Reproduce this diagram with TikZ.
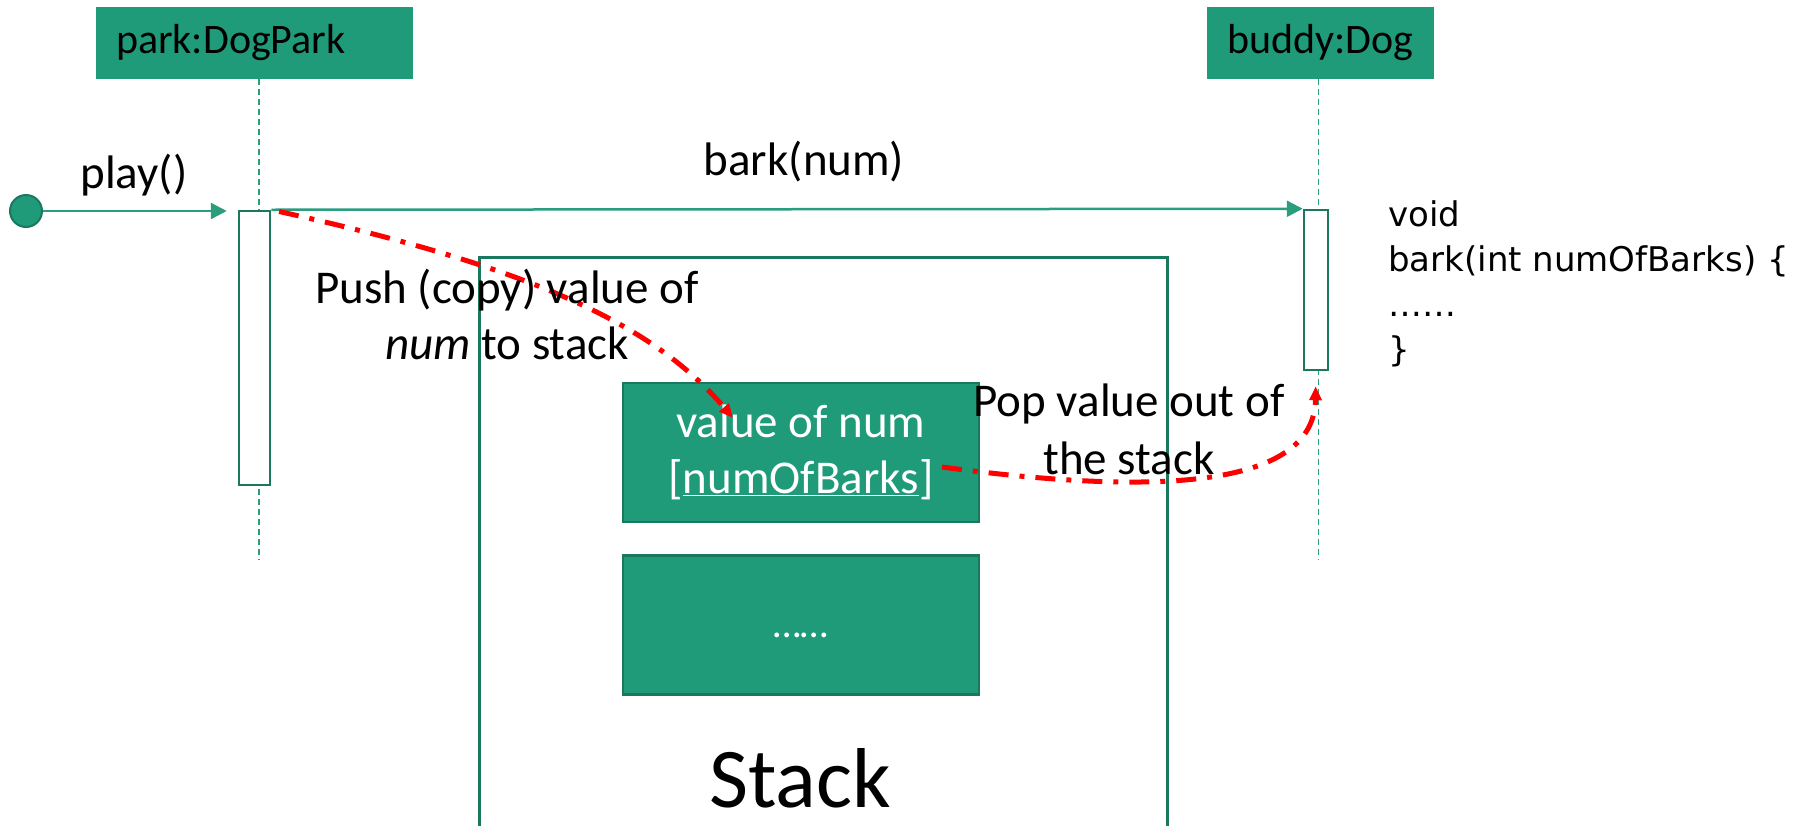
\documentclass[tikz,border=0pt]{standalone}
\usepackage{fontspec}
\setmainfont{Carlito}
\newfontfamily\codefont{DejaVu Sans}
\usetikzlibrary{arrows.meta}
\definecolor{boxgreen}{RGB}{31,155,122}
\definecolor{edgegreen}{RGB}{26,120,94}
\definecolor{linegreen}{RGB}{42,157,126}
\definecolor{popred}{RGB}{255,0,0}
\begin{document}
\begin{tikzpicture}[x=1pt,y=-1pt,
  objbox/.style={fill=boxgreen, draw=none, minimum height=72pt, inner sep=0pt,
    font=\fontsize{42}{50}\selectfont},
  lifeline/.style={draw=linegreen, line width=1.5pt, dash pattern=on 6pt off 4pt},
  activation/.style={draw=edgegreen, fill=white, line width=2.5pt, inner sep=0pt},
  msg/.style={draw=linegreen, line width=2.5pt,
    -{Triangle[length=16pt,width=16pt]}},
  label/.style={inner sep=0pt, font=\fontsize{47}{56}\selectfont, align=center},
  frame/.style={draw=edgegreen, line width=3pt, inner sep=0pt},
  slot/.style={fill=boxgreen, draw=edgegreen, line width=2.5pt, inner sep=0pt,
    minimum width=356pt, minimum height=139pt, text=white, align=center},
  flow/.style={draw=popred, line width=5pt, dash pattern=on 20pt off 11pt on 5pt off 11pt,
    -{Triangle[length=14pt,width=12pt]}},
]
\useasboundingbox (0,0) rectangle (1808,825);

% objects and their lifelines
\node[objbox, minimum width=317pt, text width=277pt, inner xsep=20pt, align=left]
  (park) at (254.5,43) {park:DogPark};
\node[objbox, minimum width=227pt] (buddy) at (1320.5,43) {buddy:Dog};
\coordinate (parkend) at (259,560);
\coordinate (buddyend) at (1318.5,560);
\draw[lifeline] (parkend |- park.south) -- (parkend);
\draw[lifeline] (buddyend |- buddy.south) -- (buddyend);

% stack frame and its slots
\node[frame, minimum width=688pt, minimum height=593pt] (stack) at (823,553.5) {};
\node[slot, font=\fontsize{47}{56}\selectfont] (val) at (801,452.5)
  {value of num\\{[}\underline{numOfBarks}{]}};
\node[slot, font=\fontsize{40}{60}\selectfont] (more) at (801,625) {\strut ……};
\node[inner sep=0pt, anchor=base, font=\fontsize{85}{100}\selectfont] (stacklbl) at (800,807) {Stack};

% activation bars
\node[activation, minimum width=31pt, minimum height=274pt] (parkact) at (254.5,348) {};
\node[activation, minimum width=24pt, minimum height=160pt] (dogact) at (1316,290) {};

% initial call
\node[circle, fill=boxgreen, draw=edgegreen, line width=2pt, minimum size=32pt, inner sep=0pt]
  (start) at (26,211) {};
\draw[msg, shorten >=11pt] (start.east) -- (start.east -| parkact.west);
\node[label, anchor=base] (playlbl) at (134,188) {play()};

% call to buddy
\draw[msg] (parkact.north east) -- (dogact.north west);
\node[label, anchor=base] (barklbl) at (804,175) {bark(num)};

% method body
\node[inner sep=0pt, anchor=west, align=left, font=\codefont\fontsize{34}{45}\selectfont]
  (code) at (1388,284) {void\\bark(int numOfBarks) \{\\……\\\}};

% push and pop
\coordinate (pushend) at (733,418);
\coordinate (popstart) at (942,467);
\draw[flow, shorten <=8pt] (parkact.north east) .. controls (520,265) and (650,320) .. (pushend);
\draw[flow, shorten >=15pt] (popstart) .. controls (1150,495) and (1314,490) .. (dogact.south);
\node[label] (pushlbl) at (507,314.5) {Push (copy) value of\\\textit{num} to stack};
\node[label, font=\fontsize{47}{58}\selectfont] (poplbl) at (1129,429.5) {Pop value out of\\the stack};
\end{tikzpicture}
\end{document}
